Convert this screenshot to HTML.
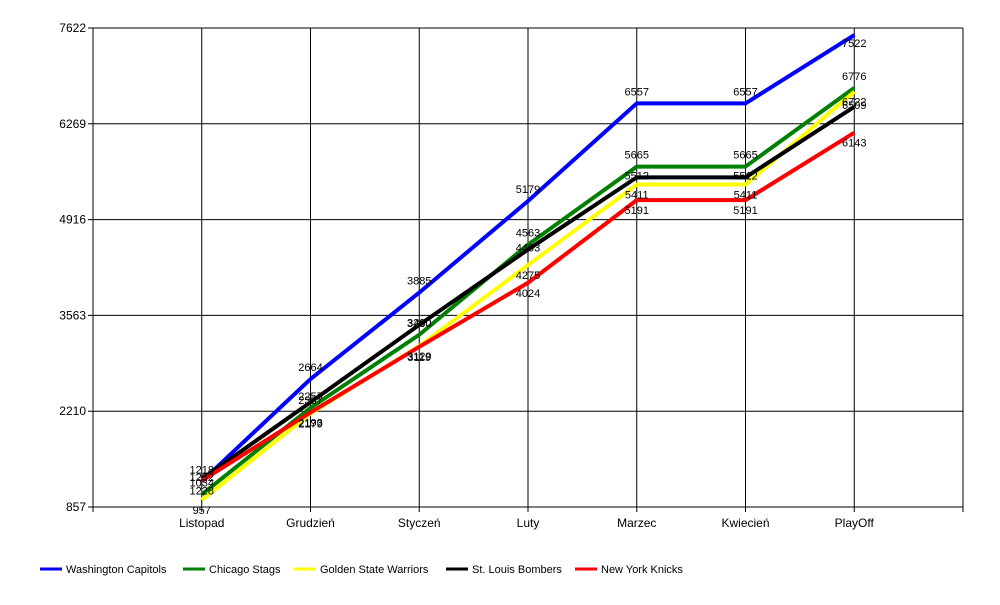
<!DOCTYPE html>
<html><head><meta charset="utf-8"><style>
body{margin:0;background:#fff;font-family:"Liberation Sans",Arial,sans-serif}
svg text{font-family:"Liberation Sans",Arial,sans-serif;font-size:12px;fill:#000}
</style></head><body>
<svg id="c" width="1000" height="600"></svg>
<script>
const categories=["Listopad","Grudzień","Styczeń","Luty","Marzec","Kwiecień","PlayOff"];
const yTicks=[857,2210,3563,4916,6269,7622];
const seriesNames=["Washington Capitols","Chicago Stags","Golden State Warriors","St. Louis Bombers","New York Knicks"];
const seriesColors=["#0000ff","#008000","#ffff00","#000000","#ff0000"];
const washington=[1218,2664,3885,5179,6557,6557,7522];
const chicago=[1034,2257,3290,4563,5665,5665,6776];
const golden=[957,2179,3129,4275,5411,5411,6722];
const stlouis=[1252,2337,3430,4493,5512,5512,6509];
const newyork=[1228,2193,3119,4024,5191,5191,6143];
const seriesValues=[washington,chicago,golden,stlouis,newyork];
const L=93,R=963,T=28,B=507,yMin=857,yMax=7622;
const labelOffsets=[-8,-8,14,2,14];
const xs=i=>L+(R-L)*(i+1)/(categories.length+1);
const ys=v=>B-(v-yMin)/(yMax-yMin)*(B-T);
const svg=document.getElementById('c');const NS="http://www.w3.org/2000/svg";
function mk(t,a,p){const e=document.createElementNS(NS,t);for(const k in a)e.setAttribute(k,a[k]);(p||svg).appendChild(e);return e;}
yTicks.forEach(v=>{const g=mk('line',{x1:L-5,x2:R,y1:ys(v),y2:ys(v),stroke:'#000','stroke-width':1});


const t=mk('text',{x:L-7,y:ys(v)+4,'text-anchor':'end'});t.textContent=v;

});
categories.forEach((c,i)=>{const g=mk('line',{x1:xs(i),x2:xs(i),y1:T,y2:B+5,stroke:'#000','stroke-width':1});


const t=mk('text',{x:xs(i),y:B+20,'text-anchor':'middle'});t.textContent=c;

});
[L,R].forEach(x=>{const g=mk('line',{x1:x,x2:x,y1:T,y2:B+5,stroke:'#000'});

});
const ax=mk('line',{x1:L,x2:R,y1:B,y2:B,stroke:'#000'});


seriesValues.forEach((vals,s)=>{
const pts=vals.map((v,i)=>xs(i)+','+ys(v)).join(' ');
const p=mk('polyline',{points:pts,fill:'none',stroke:seriesColors[s],'stroke-width':4,'stroke-linejoin':'round'});


});
seriesValues.forEach((vals,s)=>{vals.forEach((v,i)=>{
let off=labelOffsets[s];
if(s===0&&i===vals.length-1)off=12;
const t=mk('text',{x:xs(i),y:ys(v)+off,'text-anchor':'middle',style:'font-size:11px'});t.textContent=v;

});});
const lx=[40,183,294,446,575];
seriesNames.forEach((n,s)=>{
const l=mk('line',{x1:lx[s],x2:lx[s]+22,y1:569,y2:569,stroke:seriesColors[s],'stroke-width':3});


const t=mk('text',{x:lx[s]+26,y:573,style:'font-size:11px'});t.textContent=n;

});
</script>
</body></html>
